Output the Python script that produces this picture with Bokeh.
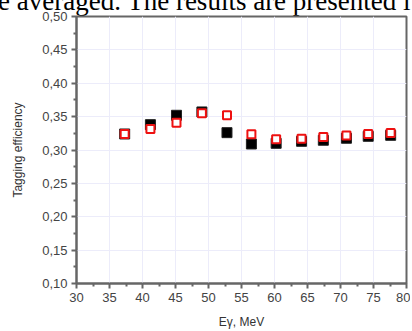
from bokeh.plotting import figure
from bokeh.models import Range1d, FixedTicker, Div
from bokeh.layouts import column
from bokeh.embed import file_html
from bokeh.resources import INLINE

energy = [37.3, 41.2, 45.15, 49.0, 52.8, 56.5, 60.25, 64.1, 67.4, 70.9, 74.2, 77.6]
eff_black = [0.324, 0.338, 0.352, 0.357, 0.326, 0.309, 0.310, 0.313, 0.3146, 0.3176, 0.3205, 0.322]
eff_red = [0.324, 0.3315, 0.341, 0.355, 0.352, 0.3235, 0.316, 0.3167, 0.3196, 0.3216, 0.324, 0.3255]

x_ticks = [30, 35, 40, 45, 50, 55, 60, 65, 70, 75, 80]
y_ticks = [0.10, 0.15, 0.20, 0.25, 0.30, 0.35, 0.40, 0.45, 0.50]
y_tick_labels = ["0,10", "0,15", "0,20", "0,25", "0,30", "0,35", "0,40", "0,45", "0,50"]
page_text = "e averaged. The results are presented i"

header = Div(
    text=('<div style="position:relative;top:-12px;left:-2px;font-family:\'Liberation Serif\';'
          'font-size:27px;line-height:27px;white-space:nowrap;color:black">' + page_text + '</div>'),
    width=412, height=16, margin=0, styles={"overflow": "hidden"})

p = figure(width=410, height=331, output_backend="svg", toolbar_location=None,
           x_range=Range1d(30, 80), y_range=Range1d(0.10, 0.50),
           min_border_left=76, min_border_right=4, min_border_top=16, min_border_bottom=46)
p.margin = (-16, 0, 0, 0)

p.outline_line_color = "#666666"
p.outline_line_width = 2
p.background_fill_color = "white"
p.border_fill_alpha = 0

for ax in (p.xaxis[0], p.yaxis[0]):
    ax.axis_line_color = "#666666"
    ax.axis_line_width = 2
    ax.major_tick_line_color = "#666666"
    ax.minor_tick_line_color = "#666666"
    ax.major_tick_line_width = 2
    ax.minor_tick_line_width = 2
    ax.major_tick_out = 5
    ax.major_tick_in = 0
    ax.minor_tick_out = 3
    ax.minor_tick_in = 0
    ax.major_label_text_font = "Liberation Sans"
    ax.major_label_text_font_size = "13px"
    ax.major_label_text_color = "#444444"
    ax.axis_label_text_font = "Liberation Sans"
    ax.axis_label_text_font_size = "12px"
    ax.axis_label_text_font_style = "normal"
    ax.axis_label_text_color = "#333333"

p.xaxis[0].ticker = FixedTicker(ticks=x_ticks, minor_ticks=[32.5 + 5 * i for i in range(10)])
p.yaxis[0].ticker = FixedTicker(ticks=y_ticks, minor_ticks=[0.125 + 0.05 * i for i in range(8)])
p.yaxis[0].major_label_overrides = {t: l for t, l in zip(y_ticks, y_tick_labels)}
p.xaxis[0].axis_label = "Eγ, MeV"
p.yaxis[0].axis_label = "Tagging efficiency"
p.xaxis[0].axis_label_standoff = 10
p.yaxis[0].axis_label_standoff = 14
p.xaxis[0].major_label_standoff = 4
p.yaxis[0].major_label_standoff = 4

p.xgrid.ticker = FixedTicker(ticks=x_ticks)
p.ygrid.ticker = FixedTicker(ticks=y_ticks)
p.grid.grid_line_color = "#ececfa"
p.grid.grid_line_width = 1

p.scatter(energy, eff_black, marker="square", size=10, fill_color="black", line_color="#222222", line_width=1)
p.scatter(energy, eff_red, marker="square", size=8, fill_color="white", line_color="#ee1111", line_width=2)

layout = column(header, p, spacing=0)
open("out.html", "w").write(file_html(layout, INLINE))
